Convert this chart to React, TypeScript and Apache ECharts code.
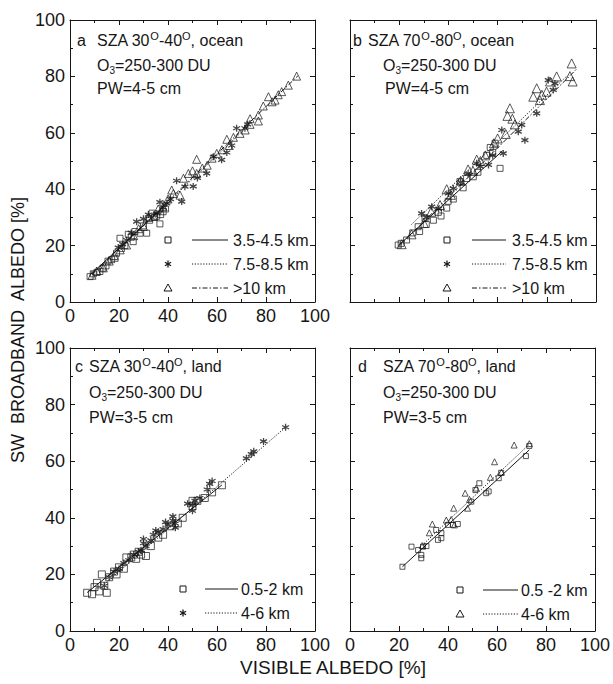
import React, { useEffect, useRef } from "react";
import * as echarts from "echarts";

const INK = "#161616";
const FONT = '"Liberation Sans", Arial, Helvetica, sans-serif';

// axis range (both axes, all panels)
const AXIS_MIN = 0;
const AXIS_MAX = 100;
const AXIS_STEP = 20;

// ---------- panel a : SZA 30-40, ocean ----------
const aLow = [[8.2,9],[9.5,10],[11,10.5],[12.2,10.8],[13.5,12],[14.7,12.8],[15.5,14.5],[17,15],[18.4,15.5],[19,17.3],[20.4,22.6],[21,19],[22.4,20],[23.8,24],[25,23],[25.8,21.4],[26.5,25],[28.6,24.4],[30,27],[31.3,24.4],[32.5,29],[33.5,31.5],[34.5,30],[35.4,30.4],[36.7,27.7],[37,31],[38,32],[39,33]];
const aMid = [[19.7,19.3],[21.5,20.5],[23.1,22],[25,24.5],[27.2,28.5],[30,29.5],[32,31],[35.4,31.4],[36.7,35.4],[38,33.5],[39.5,35],[41,36.5],[43.5,43],[45.6,35.6],[46.9,40.9],[50.3,41],[52,44],[55.8,45.6],[58.5,51.5],[61.9,50.4],[64,53],[66,55.5],[68,61.6],[71.4,61.6],[72.5,63]];
const aHigh = [[9,9.5],[10.9,11],[13.6,12.1],[16,14.5],[18,16.5],[20.5,18.5],[23.1,20.2],[26,23.5],[28,26],[30,26.8],[32,30],[34,30.4],[36,33],[38,33.8],[40,36.5],[41.5,39.7],[42.2,38.5],[44.9,37.9],[46.3,43.9],[48.3,45.6],[50,46.5],[51.7,50.6],[51.7,45.6],[54,47.5],[56,48.5],[58,51],[59.9,52.7],[62,54],[64,57.7],[65,55.5],[66.7,58.4],[69.4,59.8],[71.5,61],[73.5,63],[73.5,65],[76.9,64.2],[76.9,66.3],[78.9,69.5],[81,72.8],[82.5,71],[83.7,71.6],[85,73.5],[86.4,74.6],[89.1,76.9],[92.5,80.1]];
const aLowFit = [[8,9.4],[40,35.2]];
const aMidFit = [[19,17.8],[73,62.8]];
const aHighFit = [[9,9.8],[93,80.2]];

// ---------- panel b : SZA 70-80, ocean ----------
const bLow = [[19.6,20.2],[20.8,20.8],[23,22],[25.5,24.5],[27.7,26.7],[28.3,25],[30.5,29.7],[31,27.5],[33.9,29],[35.9,31.8],[37,30.5],[39.3,33.3],[39.9,35.7],[42,36.5],[44.7,42.7],[46,40.5],[47.4,43.8],[50.1,44.4],[52,46],[55.6,52],[57,54.8],[58,53],[59,56.3],[61,47.4]];
const bMid = [[29.1,31.4],[31,30],[33.2,33.8],[36,33],[40,38.5],[42,40.3],[45,42.5],[48,45.5],[51.5,49.2],[53,48],[56.3,48.6],[58,52],[62.3,52.7],[61.7,61],[68.4,60.4],[69.8,62.8],[71.1,57.4],[75.9,66.9],[80.6,78.7],[82.6,75.2],[83.3,77.5]];
const bHigh = [[21,20.5],[25,24],[30,28],[33,32],[36.6,34.4],[39.3,40],[41,38],[45,43],[48,47],[50,46.5],[51.5,50.5],[53,50],[55,52],[58.5,56.3],[60,58],[63.3,59.6],[64,66],[65,68.7],[66,65],[67,63],[74.5,72.8],[75.9,75.8],[77.2,71.6],[78,73.5],[79.9,74.6],[81.3,78.2],[84,80],[89.4,80.1],[90.1,84.6],[90.5,78.2]];
const bLowFit = [[20,20.3],[62,53.6]];
const bMidFit = [[25,27.5],[88,80]];
const bHighFit = [[20,19.8],[92,82.5]];

// ---------- panel c : SZA 30-40, land ----------
const cLow = [[7,13.5],[9,13],[10,15.5],[11,17],[12,14],[13,20],[14,16],[15,13.5],[16,19],[18,21],[19,20],[20,22.5],[22,22],[23,26],[25,26],[26,27],[27,25.5],[28,28],[29,27],[31,26.5],[33,30],[36,33],[38,34],[41,37],[44,38],[46,40],[50,44],[50,46],[52,46],[55,47],[58,49],[62,51.5]];
const cMid = [[14,16],[16,19],[18,21],[20,22],[22,24],[24,25],[26,27],[28,28],[29,28.5],[30,31],[30,32.5],[31,30],[33,32],[34,34],[35,35.5],[36,35],[38,36],[39,38.5],[40,37.5],[42,40.5],[42,39],[43,36.5],[43,38],[48,45],[50,42.5],[50,44.5],[51,46],[53,47],[56,50],[57,52],[58,53],[72,61],[74,62.5],[75,63.5],[79,67],[88,72]];
const cLowFit = [[7,13.6],[62,51.6]];
const cMidFit = [[14,16.5],[88,72]];

// ---------- panel d : SZA 70-80, land ----------
const dLow = [[21.4,22.7],[25.1,29.8],[27.8,28.6],[29.1,26.9],[29.1,25.7],[29.8,29.8],[31.2,30],[35.2,35.7],[35.9,32.2],[37.3,32.8],[37.3,34.6],[40,37.5],[42,37.5],[44,37.8],[49.5,45.7],[51.2,49.8],[52.8,52.2],[55.6,48.7],[56.6,49.3],[60.7,54],[61.7,55.9],[71.8,61.8],[73.2,65.4]];
const dMid = [[29.5,30.2],[32.4,34.7],[33.6,37.8],[39.3,39.2],[41.3,39.4],[42.3,43.4],[42.6,37.5],[47,48.7],[48,43.4],[48.8,46.5],[51.5,50.5],[57.3,54.3],[59,59.8],[61.8,56.1],[67,65.7],[73.2,66.2]];
const dLowFit = [[21.4,22.7],[73.2,64]];
const dMidFit = [[28.5,29.5],[73.2,66]];

const oceanLegend = ["3.5-4.5 km", "7.5-8.5 km", ">10 km"];
const landLegendC = ["0.5-2 km", "4-6 km"];
const landLegendD = ["0.5 -2 km", "4-6 km"];

const ASTER = "path://M5,0L5,10M0.67,2.5L9.33,7.5M0.67,7.5L9.33,2.5";
const DOT = [1.2, 1.6];
const DASHDOT = [5, 2, 1.5, 2];

const grids = [
  { left: 70, top: 20, width: 245, height: 282 },
  { left: 350, top: 20, width: 246, height: 282 },
  { left: 70, top: 348, width: 245, height: 283 },
  { left: 350, top: 348, width: 246, height: 283 },
];
const showXLabels = [true, false, true, true];
const showYLabels = [true, false, true, false];

function axis(gridIndex: number, position: string, showLabel: boolean) {
  return {
    type: "value",
    gridIndex,
    position,
    min: AXIS_MIN,
    max: AXIS_MAX,
    interval: AXIS_STEP,
    axisLine: { show: true, onZero: false, lineStyle: { color: INK, width: 1 } },
    axisTick: { show: true, inside: true, length: 5, lineStyle: { color: INK, width: 1 } },
    minorTick: { show: true, splitNumber: 2, length: 3, lineStyle: { color: INK, width: 1 } },
    splitLine: { show: false },
    minorSplitLine: { show: false },
    axisLabel: {
      show: showLabel,
      margin: 5,
      fontSize: 18,
      fontFamily: FONT,
      color: INK,
    },
  };
}

function scatter(data: number[][], g: number, kind: string, size: number) {
  const base: any = {
    type: "scatter",
    xAxisIndex: g,
    yAxisIndex: g,
    data,
    symbolSize: size,
    z: 3,
  };
  if (kind === "square") {
    base.symbol = "rect";
    base.itemStyle = { color: "rgba(0,0,0,0)", borderColor: INK, borderWidth: 0.9 };
  } else if (kind === "triangle") {
    base.symbol = "triangle";
    base.itemStyle = { color: "rgba(0,0,0,0)", borderColor: INK, borderWidth: 0.9 };
  } else {
    base.symbol = ASTER;
    base.itemStyle = { color: "rgba(0,0,0,0)", borderColor: INK, borderWidth: 1.3 };
  }
  return base;
}

function fit(data: number[][], g: number, dash: any) {
  return {
    type: "line",
    xAxisIndex: g,
    yAxisIndex: g,
    data,
    showSymbol: false,
    symbol: "none",
    z: 2,
    lineStyle: { color: INK, width: 1, type: dash },
  };
}

function txt(x: number, y: number, text: string, size = 16) {
  return {
    type: "text",
    x,
    y,
    style: {
      text,
      font: `${size}px ${FONT}`,
      fill: INK,
      align: "left",
      verticalAlign: "middle",
      textAlign: "left",
      textVerticalAlign: "middle",
      lineHeight: 20,
      rich: {
        s: { fontSize: 11, fontFamily: FONT, fill: INK, lineHeight: 10, verticalAlign: "top" },
        b: { fontSize: 10, fontFamily: FONT, fill: INK, lineHeight: 10, verticalAlign: "bottom" },
      },
    },
  };
}

function legendRow(kind: string, sx: number, lx1: number, lx2: number, tx: number, y: number, dash: any, label: string) {
  const els: any[] = [];
  const st = { fill: "none", stroke: INK, lineWidth: 1 };
  if (kind === "square") {
    els.push({ type: "rect", shape: { x: sx - 3, y: y - 3, width: 6, height: 6 }, style: st });
  } else if (kind === "triangle") {
    els.push({ type: "polygon", shape: { points: [[sx, y - 4], [sx - 4, y + 3], [sx + 4, y + 3]] }, style: st });
  } else {
    const r = 3.5;
    els.push({ type: "line", shape: { x1: sx, y1: y - r, x2: sx, y2: y + r }, style: { stroke: INK, lineWidth: 1.3 } });
    els.push({ type: "line", shape: { x1: sx - r * 0.87, y1: y - r / 2, x2: sx + r * 0.87, y2: y + r / 2 }, style: { stroke: INK, lineWidth: 1.3 } });
    els.push({ type: "line", shape: { x1: sx - r * 0.87, y1: y + r / 2, x2: sx + r * 0.87, y2: y - r / 2 }, style: { stroke: INK, lineWidth: 1.3 } });
  }
  els.push({ type: "line", shape: { x1: lx1, y1: y, x2: lx2, y2: y }, style: { stroke: INK, lineWidth: 1, lineDash: dash } });
  els.push(txt(tx, y, label));
  return els;
}

export default function App() {
  const ref = useRef<HTMLDivElement>(null);
  useEffect(() => {
    if (!ref.current) return;
    const chart = echarts.init(ref.current, undefined, { renderer: "svg" });

    const xAxis: any[] = [];
    const yAxis: any[] = [];
    grids.forEach((_, i) => {
      xAxis.push(axis(i, "bottom", showXLabels[i]));
      yAxis.push(axis(i, "left", showYLabels[i]));
    });
    grids.forEach((_, i) => {
      xAxis.push(axis(i, "top", false));
      yAxis.push(axis(i, "right", false));
    });

    const series: any[] = [
      fit(aLowFit, 0, "solid"), fit(aMidFit, 0, DOT), fit(aHighFit, 0, DASHDOT),
      scatter(aLow, 0, "square", 6), scatter(aMid, 0, "star", 7), scatter(aHigh, 0, "triangle", 8),
      fit(bLowFit, 1, "solid"), fit(bMidFit, 1, DOT), fit(bHighFit, 1, DASHDOT),
      scatter(bLow, 1, "square", 6), scatter(bMid, 1, "star", 7), scatter(bHigh, 1, "triangle", 9),
      fit(cLowFit, 2, "solid"), fit(cMidFit, 2, DOT),
      scatter(cLow, 2, "square", 7), scatter(cMid, 2, "star", 7),
      fit(dLowFit, 3, "solid"), fit(dMidFit, 3, DOT),
      scatter(dLow, 3, "square", 5), scatter(dMid, 3, "triangle", 6),
    ];

    const graphic: any[] = [
      // panel a annotations
      txt(77, 40, "a"),
      txt(97, 40, "SZA 30{s|O}-40{s|O}, ocean"),
      txt(97, 65, "O{b|3}=250-300 DU"),
      txt(97, 88, "PW=4-5 cm"),
      // panel b
      txt(353, 40, "b"),
      txt(368, 40, "SZA 70{s|O}-80{s|O}, ocean"),
      txt(383, 65, "O{b|3}=250-300 DU"),
      txt(385, 88, "PW=4-5 cm"),
      // panel c
      txt(75, 366, "c"),
      txt(89, 366, "SZA 30{s|O}-40{s|O}, land"),
      txt(89, 392, "O{b|3}=250-300 DU"),
      txt(89, 417, "PW=3-5 cm"),
      // panel d
      txt(358, 366, "d"),
      txt(383, 366, "SZA 70{s|O}-80{s|O}, land"),
      txt(383, 392, "O{b|3}=250-300 DU"),
      txt(383, 417, "PW=3-5 cm"),
      // legends
      ...legendRow("square", 168, 192, 228, 233, 240, null, oceanLegend[0]),
      ...legendRow("star", 168, 192, 228, 233, 264, DOT, oceanLegend[1]),
      ...legendRow("triangle", 168, 192, 228, 233, 288, DASHDOT, oceanLegend[2]),
      ...legendRow("square", 447, 472, 506, 512, 240, null, oceanLegend[0]),
      ...legendRow("star", 447, 472, 506, 512, 264, DOT, oceanLegend[1]),
      ...legendRow("triangle", 447, 472, 506, 512, 288, DASHDOT, oceanLegend[2]),
      ...legendRow("square", 183, 205, 238, 241, 589, null, landLegendC[0]),
      ...legendRow("star", 183, 205, 238, 241, 613, DOT, landLegendC[1]),
      ...legendRow("square", 460, 483, 518, 521, 590, null, landLegendD[0]),
      ...legendRow("triangle", 460, 483, 518, 521, 614, DOT, landLegendD[1]),
      // axis titles
      {
        type: "text",
        x: 18,
        y: 330,
        rotation: Math.PI / 2,
        style: {
          text: "SW  BROADBAND  ALBEDO [%]",
          font: `18px ${FONT}`,
          fill: INK,
          align: "center",
          verticalAlign: "middle",
          textAlign: "center",
          textVerticalAlign: "middle",
        },
      },
      {
        type: "text",
        x: 333,
        y: 667,
        style: {
          text: "VISIBLE ALBEDO [%]",
          font: `19px ${FONT}`,
          fill: INK,
          align: "center",
          verticalAlign: "middle",
          textAlign: "center",
          textVerticalAlign: "middle",
        },
      },
    ];

    chart.setOption({
      animation: false,
      backgroundColor: "#ffffff",
      grid: grids.map((g) => ({ ...g, containLabel: false })),
      xAxis,
      yAxis,
      series,
      graphic,
    });
    return () => chart.dispose();
  }, []);

  return (
    <div
      ref={ref}
      style={{ position: "fixed", left: 0, top: 0, width: 613, height: 684, background: "#fff" }}
    />
  );
}
